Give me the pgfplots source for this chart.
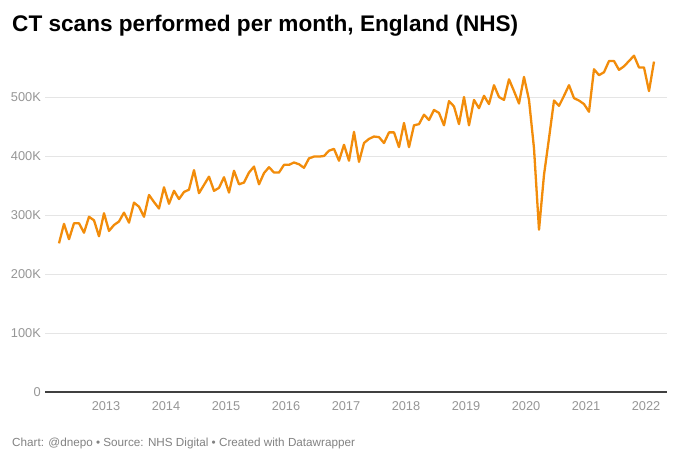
\documentclass[border=0pt]{standalone}
\usepackage{pgfplots}
\pgfplotsset{compat=1.18}
\usepackage{fontspec}
\setmainfont{Liberation Sans}
\definecolor{lineorange}{RGB}{242,140,10}
\definecolor{labelgray}{RGB}{150,150,150}
\definecolor{gridgray}{RGB}{229,229,229}
\definecolor{footgray}{RGB}{130,130,130}

% monthly CT scans, thousands; month 0 = April 2012
\pgfplotstableread{
m v
0 252
1 285
2 259
3 286
4 286
5 270
6 297
7 291
8 264
9 303
10 273
11 283
12 289
13 304
14 287
15 321
16 314
17 297
18 334
19 322
20 311
21 347
22 319
23 341
24 327
25 339
26 343
27 376
28 337
29 351
30 365
31 341
32 346
33 364
34 338
35 375
36 352
37 355
38 372
39 382
40 352
41 371
42 381
43 372
44 372
45 385
46 385
47 389
48 386
49 380
50 396
51 399
52 399
53 400
54 409
55 412
56 392
57 419
58 392
59 441
60 390
61 422
62 429
63 433
64 432
65 422
66 440
67 440
68 415
69 456
70 415
71 452
72 454
73 470
74 461
75 478
76 473
77 452
78 493
79 484
80 454
81 500
82 452
83 495
84 481
85 502
86 488
87 520
88 500
89 495
90 530
91 510
92 489
93 534
94 495
95 413
96 275
97 368
98 430
99 494
100 485
101 502
102 520
103 498
104 494
105 488
106 475
107 547
108 537
109 542
110 561
111 561
112 546
113 552
114 561
115 570
116 550
117 550
118 510
119 560
}\ctdata

\begin{document}
\begin{tikzpicture}[x=1pt,y=1pt]
\path[use as bounding box, fill=white] (0,0) rectangle (680,461);
\node[anchor=base west, inner sep=0] at (12,429)
  {\fontsize{22.6}{26}\selectfont\bfseries CT scans performed per month, England (NHS)};
\node[anchor=base west, inner sep=0, text=footgray] at (12,15)
  {\fontsize{11.7}{14}\selectfont Chart: @dnepo \textbullet{} Source: NHS Digital \textbullet{} Created with Datawrapper};

\begin{axis}[
    at={(45pt,69pt)}, anchor=south west,
    scale only axis,
    width=622pt, height=342.2pt,
    xmin=-2.8, xmax=121.6,
    ymin=0, ymax=580,
    axis line style={draw=none},
    major tick length=0pt,
    xtick={9,21,33,45,57,69,81,93,105,117},
    xticklabels={2013,2014,2015,2016,2017,2018,2019,2020,2021,2022},
    ytick={100,200,300,400,500},
    yticklabels={100K,200K,300K,400K,500K},
    extra y ticks={0},
    extra y tick labels={0},
    extra y tick style={grid style={draw=black!75, line width=1.6pt}},
    ymajorgrids,
    grid style={draw=gridgray, line width=0.9pt},
    tick label style={font=\fontsize{12.8}{15}\selectfont, text=labelgray},
    yticklabel style={anchor=east, inner xsep=0pt, xshift=-4pt},
    xticklabel style={anchor=north, yshift=-6pt, xshift=2pt},
    /pgf/number format/assume math mode=true,
    clip=false,
]
\addplot[lineorange, line width=2.3pt, line join=round] table[x=m, y=v] {\ctdata};
\end{axis}
\end{tikzpicture}
\end{document}
